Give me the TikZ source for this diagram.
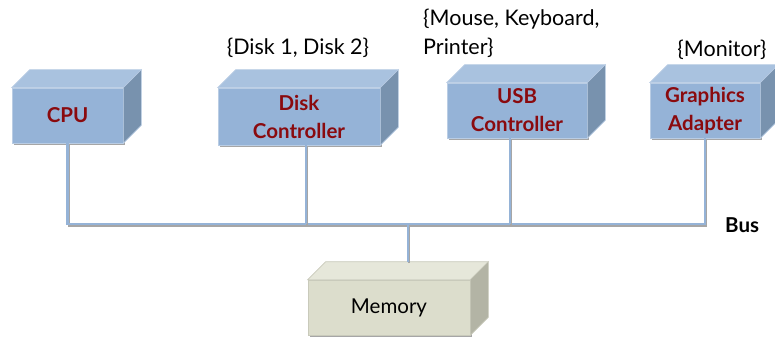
\documentclass[tikz,border=0pt]{standalone}
\usepackage{fontspec}
\setmainfont{Lato}
\usetikzlibrary{shadows}

\definecolor{frontblue}{HTML}{95B3D7}
\definecolor{topblue}{HTML}{A9C2DF}
\definecolor{sideblue}{HTML}{7892AE}
\definecolor{edgeblue}{HTML}{BACDE4}
\definecolor{frontgrey}{HTML}{DCDDCC}
\definecolor{topgrey}{HTML}{E6E7DA}
\definecolor{sidegrey}{HTML}{B3B4A5}
\definecolor{edgegrey}{HTML}{C9CABB}
\definecolor{labelred}{HTML}{8A0A0E}

\begin{document}
\begin{tikzpicture}[x=1pt,y=-1pt,
    front/.style={draw=edgeblue,line width=0.6pt,fill=frontblue,
      minimum height=55pt,inner sep=0pt,align=center,
      font=\fontsize{20.5}{28}\selectfont\bfseries,text=labelred,
      drop shadow={shadow xshift=1.5pt,shadow yshift=-2pt,opacity=.35,fill=black}},
    memfront/.style={front,draw=edgegrey,fill=frontgrey,text=black,
      font=\fontsize{20.5}{28}\selectfont},
    topface/.style={draw=edgeblue,line width=0.6pt,fill=topblue},
    sideface/.style={draw=edgeblue,line width=0.6pt,fill=sideblue},
    busline/.style={draw=frontblue,line width=2.2pt,
      preaction={draw=black!35,line width=2.2pt,
        transform canvas={shift={(1.2pt,-1.5pt)}}}},
    note/.style={font=\fontsize{21.5}{29}\selectfont,inner sep=0pt}]
\useasboundingbox (0,0) rectangle (775,339);

% Drawing box CPU
\node[front,minimum width=111pt] (cpu) at (67.5,115.5) {CPU};
\fill[topface] (cpu.north west) -- ([shift={(18,-18)}]cpu.north west)
  -- ([shift={(18,-18)}]cpu.north east) -- (cpu.north east) -- cycle;
\fill[sideface] (cpu.north east) -- ([shift={(18,-18)}]cpu.north east)
  -- ([shift={(18,-18)}]cpu.south east) -- (cpu.south east) -- cycle;

% Drawing box Disk Controller
\node[front,minimum width=162pt,minimum height=57pt] (disk) at (299,116.5) {Disk\\Controller};
\fill[topface] (disk.north west) -- ([shift={(18,-18)}]disk.north west)
  -- ([shift={(18,-18)}]disk.north east) -- (disk.north east) -- cycle;
\fill[sideface] (disk.north east) -- ([shift={(18,-18)}]disk.north east)
  -- ([shift={(18,-18)}]disk.south east) -- (disk.south east) -- cycle;

% Drawing box USB Controller
\node[front,minimum width=140pt] (usb) at (517,110.5) {USB\\Controller};
\fill[topface] (usb.north west) -- ([shift={(18,-18)}]usb.north west)
  -- ([shift={(18,-18)}]usb.north east) -- (usb.north east) -- cycle;
\fill[sideface] (usb.north east) -- ([shift={(18,-18)}]usb.north east)
  -- ([shift={(18,-18)}]usb.south east) -- (usb.south east) -- cycle;

% Drawing box Graphics Adapter
\node[front,minimum width=110pt] (gfx) at (705,110.5) {Graphics\\Adapter};
\fill[topface] (gfx.north west) -- ([shift={(18,-18)}]gfx.north west)
  -- ([shift={(18,-18)}]gfx.north east) -- (gfx.north east) -- cycle;
\fill[sideface] (gfx.north east) -- ([shift={(18,-18)}]gfx.north east)
  -- ([shift={(18,-18)}]gfx.south east) -- (gfx.south east) -- cycle;

% Drawing box Memory
\node[memfront,minimum width=162pt] (mem) at (389,307.5) {Memory};
\fill[topface,draw=edgegrey,fill=topgrey] (mem.north west) -- ([shift={(18,-18)}]mem.north west)
  -- ([shift={(18,-18)}]mem.north east) -- (mem.north east) -- cycle;
\fill[sideface,draw=edgegrey,fill=sidegrey] (mem.north east) -- ([shift={(18,-18)}]mem.north east)
  -- ([shift={(18,-18)}]mem.south east) -- (mem.south east) -- cycle;

% Drawing the bus
\coordinate (busR) at (705,224);
\coordinate (memtop) at ([shift={(19,-18)}]mem.north);
\draw[busline] (cpu.south) |- (busR) -- (gfx.south);
\draw[busline] ([xshift=7pt]disk.south) -- ([xshift=7pt]disk.south |- busR);
\draw[busline] ([xshift=-7pt]usb.south) -- ([xshift=-7pt]usb.south |- busR);
\draw[busline] (memtop) -- (memtop |- busR);

% Labels
\node[note] (disknote) at (298,48) {\{Disk 1, Disk 2\}};
\node[note,anchor=west,align=left] (usbnote) at (423,33) {\{Mouse, Keyboard,\\Printer\}};
\node[note] (gfxnote) at (722,50) {\{Monitor\}};
\node[note,font=\fontsize{20.5}{28}\selectfont\bfseries,anchor=west] (bus) at (725,225) {Bus};
\end{tikzpicture}
\end{document}
